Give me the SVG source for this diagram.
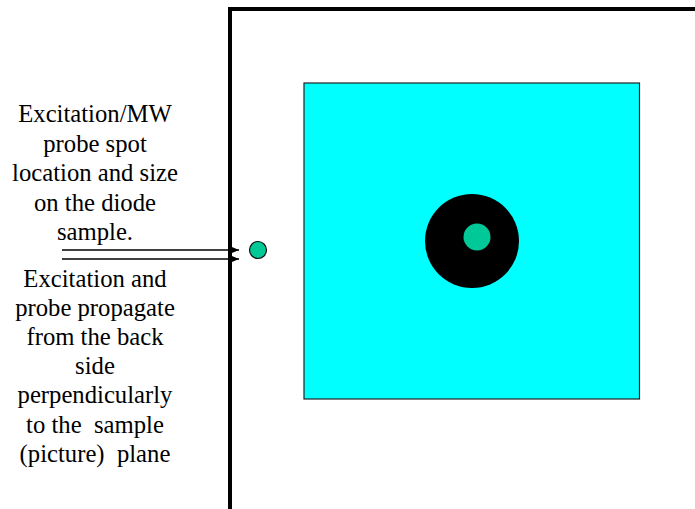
<svg xmlns="http://www.w3.org/2000/svg" width="695" height="509" viewBox="0 0 695 509">
<style>
.t{font-family:"Liberation Serif","Times New Roman","DejaVu Serif",serif;font-size:24.7px;fill:#000;text-anchor:middle}
.arr{stroke:#000;stroke-width:1.3;fill:none}
</style>
<defs>
<marker id="ah" markerUnits="userSpaceOnUse" markerWidth="11" markerHeight="11" viewBox="0 0 11 11" refX="10" refY="5.5" orient="auto">
<path d="M0,1.2 L10,5.5 L0,9.8 Z" fill="#000"/>
</marker>
</defs>
<rect width="695" height="509" fill="#fff"/>
<g id="frame">
<path d="M230,509 V9 H695" fill="none" stroke="#000" stroke-width="4"/>
</g>
<g id="sample">
<rect x="304" y="83" width="335.5" height="316" fill="#00FFFF" stroke="#222" stroke-width="1.2"/>
</g>
<g id="contact">
<circle cx="472" cy="241" r="47" fill="#000"/>
<circle cx="477" cy="237" r="13.5" fill="#00C896"/>
</g>
<g id="spot">
<circle cx="258" cy="250" r="8.5" fill="#00C896" stroke="#111" stroke-width="1.2"/>
</g>
<g id="label-top">
<text class="t" x="95" y="122">Excitation/MW</text>
<text class="t" x="95" y="152">probe spot</text>
<text class="t" x="95" y="181">location and size</text>
<text class="t" x="95" y="211">on the diode</text>
<text class="t" x="95" y="240">sample.</text>
</g>
<g id="label-bottom">
<text class="t" x="95" y="287">Excitation and</text>
<text class="t" x="95" y="316">probe propagate</text>
<text class="t" x="95" y="345">from the back</text>
<text class="t" x="95" y="374">side</text>
<text class="t" x="95" y="403">perpendicularly</text>
<text class="t" x="95" y="433" xml:space="preserve">to the  sample</text>
<text class="t" x="95" y="462" xml:space="preserve">(picture)  plane</text>
</g>
<g id="connectors">
<line class="arr" x1="62" y1="250" x2="239" y2="250" marker-end="url(#ah)"/>
<line class="arr" x1="62" y1="259" x2="239" y2="259" marker-end="url(#ah)"/>
</g>
</svg>
